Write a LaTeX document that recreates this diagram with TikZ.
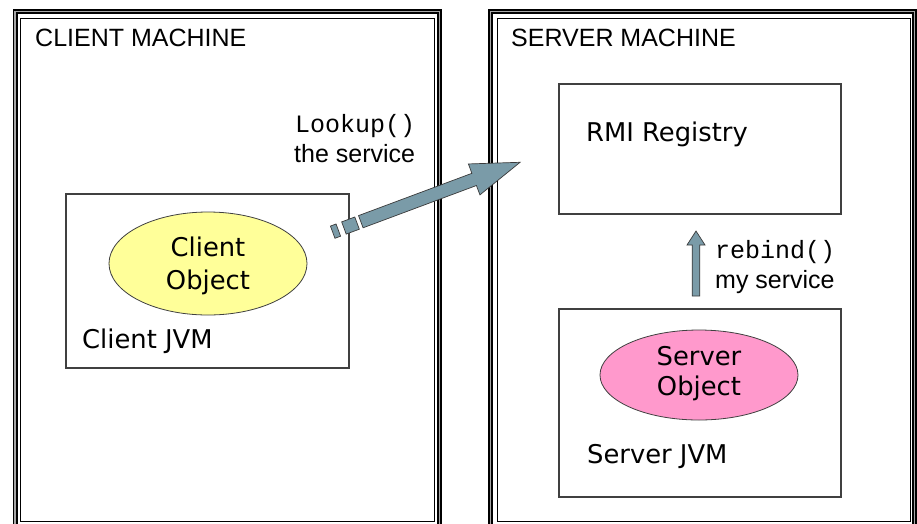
\documentclass[tikz,border=0pt]{standalone}
\usepackage{fontspec}
\usetikzlibrary{shapes.geometric}
\setmainfont{Liberation Sans}
\newfontfamily\tahfont{DejaVu Sans}
\newfontfamily\courfont{Liberation Mono}
\definecolor{boxline}{HTML}{404040}
\definecolor{arrfill}{HTML}{7A9BA8}
\definecolor{arrline}{HTML}{3A3A3A}
\definecolor{cliyellow}{HTML}{FFFF99}
\definecolor{srvpink}{HTML}{FF99CC}
\begin{document}
\begin{tikzpicture}[x=1pt,y=-1pt,
  band/.style={draw=black,line width=5pt},
  bandmid/.style={draw=gray!70,line width=1.4pt},
  jvmbox/.style={draw=boxline,line width=1.2pt,fill=white,rectangle,inner sep=0pt},
  obj/.style={draw=boxline,line width=0.8pt,ellipse,inner sep=0pt},
  tah/.style={font=\tahfont\fontsize{25.8}{30}\selectfont,inner sep=0pt},
  ari/.style={font=\fontsize{25}{30}\selectfont,inner sep=0pt},
  cour/.style={font=\courfont\fontsize{25}{30}\selectfont,inner sep=0pt},
  arrowshape/.style={fill=arrfill,draw=arrline,line width=0.7pt,line join=miter}
]
\useasboundingbox (0,0) rectangle (917,523);
\fill[white] (0,0) rectangle (917,523);

% client machine frame
\draw[band] (15,11.5) -- (439.5,11.5) -- (439.5,530) -- (15,530) -- cycle;
\draw[bandmid] (15,11.5) -- (439.5,11.5) -- (439.5,530) -- (15,530) -- cycle;
\node[draw=black,line width=1pt,rectangle,inner sep=0pt,minimum width=413.5pt,minimum height=503.5pt] (clientm) at (227.25,269.75) {};
% server machine frame
\draw[band] (490.5,11.5) -- (914.5,11.5) -- (914.5,530) -- (490.5,530) -- cycle;
\draw[bandmid] (490.5,11.5) -- (914.5,11.5) -- (914.5,530) -- (490.5,530) -- cycle;
\node[draw=black,line width=1pt,rectangle,inner sep=0pt,minimum width=413.5pt,minimum height=503.5pt] (serverm) at (703.75,269.75) {};

\node[ari,anchor=base west] (cmt) at (35,46.5) {CLIENT MACHINE};
\node[ari,anchor=base west] (smt) at (511,46.5) {SERVER MACHINE};

% boxes
\node[jvmbox,minimum width=283pt,minimum height=174pt] (cjvm) at (207.5,281) {};
\node[jvmbox,minimum width=282pt,minimum height=130pt] (rmi) at (700,149) {};
\node[jvmbox,minimum width=282pt,minimum height=188pt] (sjvm) at (700,403) {};

\node[obj,fill=cliyellow,minimum width=198pt,minimum height=103pt] (cobj) at (208,263.5) {};
\node[obj,fill=srvpink,minimum width=198pt,minimum height=90pt] (sobj) at (699,375) {};

\node[tah,anchor=base] (co1) at (208,256) {Client};
\node[tah,anchor=base] (co2) at (208,289) {Object};
\node[tah,anchor=base] (so1) at (699,365.5) {Server};
\node[tah,anchor=base] (so2) at (699,395.5) {Object};

\node[tah,anchor=base west] (cjl) at (82,348.5) {Client JVM};
\node[tah,anchor=base west] (sjl) at (587,463.5) {Server JVM};
\node[tah,anchor=base west] (rmil) at (586,141.5) {RMI Registry};

\node[cour,anchor=base west] (lk) at (295,132) {Lookup()};
\node[ari,anchor=base west] (lks) at (294,162) {the service};
\node[cour,anchor=base west] (rb) at (715,258.5) {rebind()};
\node[ari,anchor=base west] (rbs) at (715,288.5) {my service};

% lookup arrow (striped)
\coordinate (lkstart) at (360.8,221.7);
\begin{scope}[shift={(lkstart)},rotate=20.46]
  \draw[arrowshape] (0,-6.5) -- (121,-6.5) -- (121,-16.5) -- (170,0) -- (121,16.5) -- (121,6.5) -- (0,6.5) -- cycle;
  \draw[arrowshape] (-18,-6.5) rectangle (-4,6.5);
  \draw[arrowshape] (-30,-6.5) rectangle (-24,6.5);
\end{scope}

% rebind arrow
\coordinate (rbbot) at (696,296);
\coordinate (rbtip) at (696,231);
\draw[arrowshape] ([xshift=-3.8pt]rbbot) -- (692.2,245) -- (687,245) -- (rbtip) -- (705,245) -- (699.8,245) -- ([xshift=3.8pt]rbbot) -- cycle;
\end{tikzpicture}
\end{document}
